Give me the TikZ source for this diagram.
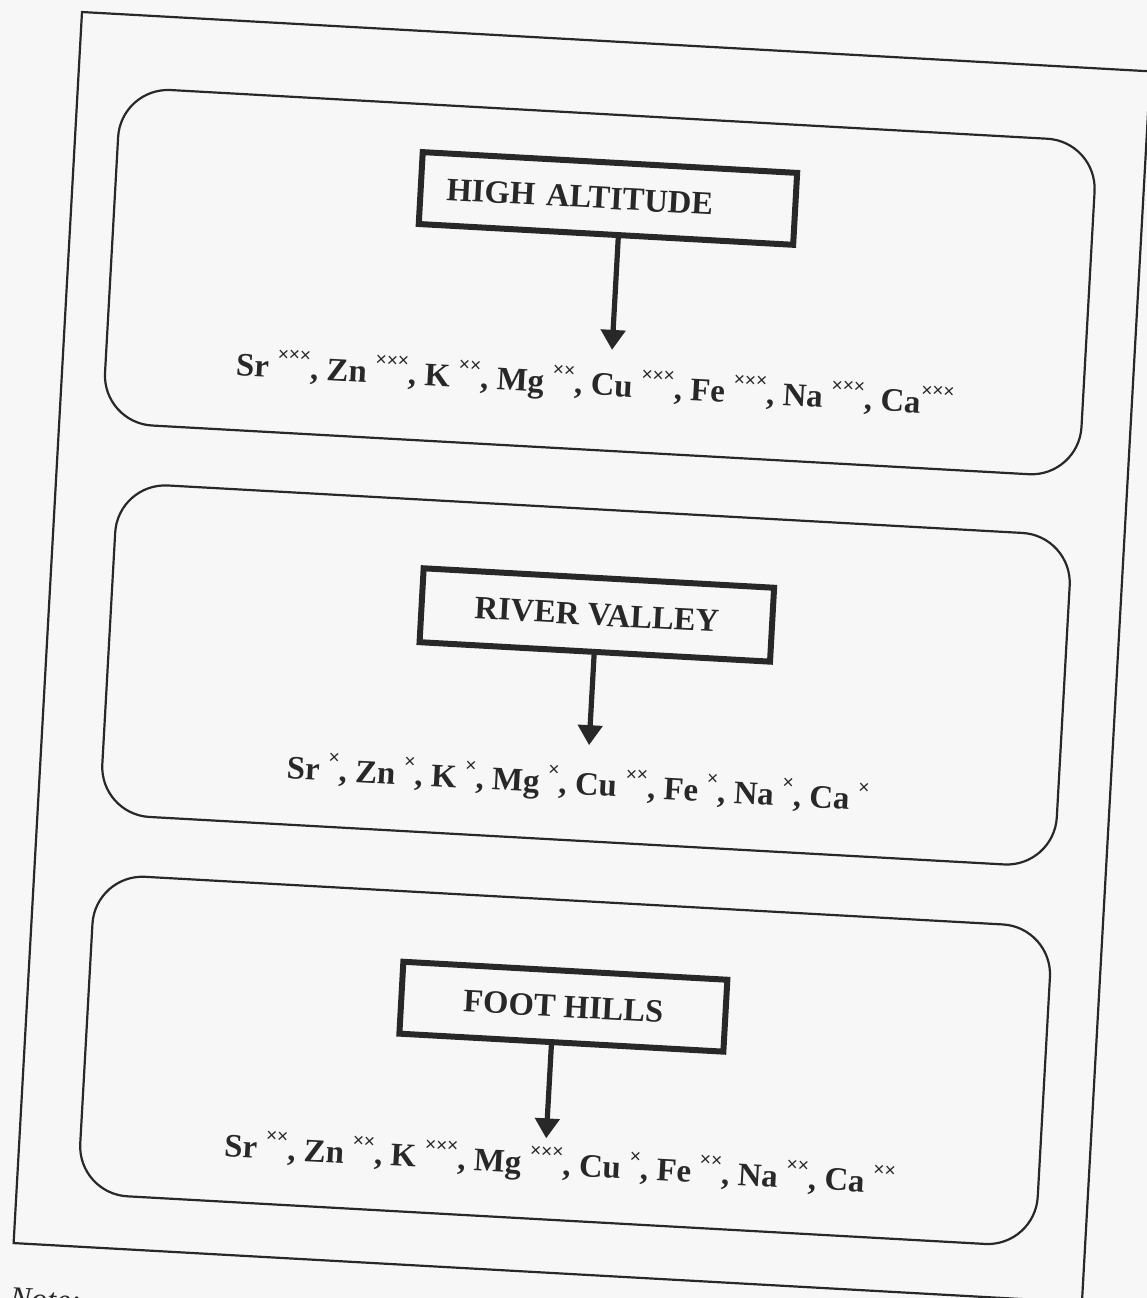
\documentclass[tikz,border=0pt]{standalone}
\usepackage{fontspec}
\setmainfont{Liberation Serif}
\setsansfont{Liberation Sans}
\usetikzlibrary{arrows.meta}
\definecolor{paper}{RGB}{247,247,247}
\definecolor{ink}{RGB}{40,40,40}
\newcommand\sx[1]{\raisebox{0.52em}{\fontsize{9.5}{9.5}\selectfont\sffamily\mdseries #1}}
\begin{document}
\begin{tikzpicture}[x=0.5pt,y=-0.5pt,
  frame/.style={draw=ink,line width=1.1pt},
  region/.style={draw=ink,line width=1.1pt,rounded corners=25pt},
  labelbox/.style={draw=ink,line width=3pt,inner sep=0pt,font=\fontsize{16.3}{19}\selectfont\bfseries,text=ink,transform shape},
  rowtext/.style={anchor=base,inner sep=0pt,font=\fontsize{16.4}{19}\selectfont\bfseries,text=ink,transform shape},
  notetext/.style={anchor=north west,inner sep=0pt,font=\fontsize{16}{19}\selectfont,text=ink,transform shape},
  arr/.style={draw=ink,line width=2.6pt,-{Triangle[width=12pt,length=10pt]}}]
\fill[paper] (0,0) rectangle (1147,1298);
\useasboundingbox (0,0) rectangle (1147,1298);
\clip (0,0) rectangle (1147,1298);
\begin{scope}[shift={(82,12)},rotate=-3.18]
  % outer frame
  \draw[frame] (0,0) rectangle (1070,1233);
  % three regions
  \draw[region] (43,73) rectangle (1021,409);
  \draw[region] (62,468) rectangle (1018,800);
  \draw[region] (61,860) rectangle (1020,1180);
  % label boxes
  \node[labelbox,minimum width=187.5pt,minimum height=36pt,text width=161.5pt,align=left] (lab1) at (535.5,157) {HIGH ALTITUDE};
  \node[labelbox,minimum width=175.5pt,minimum height=37pt] (lab2) at (547.5,573.5) {RIVER VALLEY};
  \node[labelbox,minimum width=162.25pt,minimum height=36pt] (lab3) at (535.8,966.5) {FOOT HILLS};
  % element rows
  \node[rowtext] (row1) at (533,354) {Sr \sx{×××}, Zn \sx{×××}, K \sx{××}, Mg \sx{××}, Cu \sx{×××}, Fe \sx{×××}, Na \sx{×××}, Ca\sx{×××}};
  \node[rowtext] (row2) at (538,754) {Sr \sx{×}, Zn \sx{×}, K \sx{×}, Mg \sx{×}, Cu \sx{××}, Fe \sx{×}, Na \sx{×}, Ca \sx{×}};
  \node[rowtext] (row3) at (541,1135) {Sr \sx{××}, Zn \sx{××}, K \sx{×××}, Mg \sx{×××}, Cu \sx{×}, Fe \sx{××}, Na \sx{××}, Ca \sx{××}};
  % arrows
  \coordinate (t1) at (548,308);
  \coordinate (t2) at (547,704);
  \coordinate (t3) at (526,1099);
  \draw[arr] (lab1.south -| t1) -- (t1);
  \draw[arr] (lab2.south -| t2) -- (t2);
  \draw[arr] (lab3.south -| t3) -- (t3);
  % note (cut off at the page edge, as in the reference)
  \node[notetext] (note) at (-1,1277) {\textit{Note:}\quad\textbf{\sffamily\fontsize{11}{11}\selectfont ×××}};
\end{scope}
\end{tikzpicture}
\end{document}
